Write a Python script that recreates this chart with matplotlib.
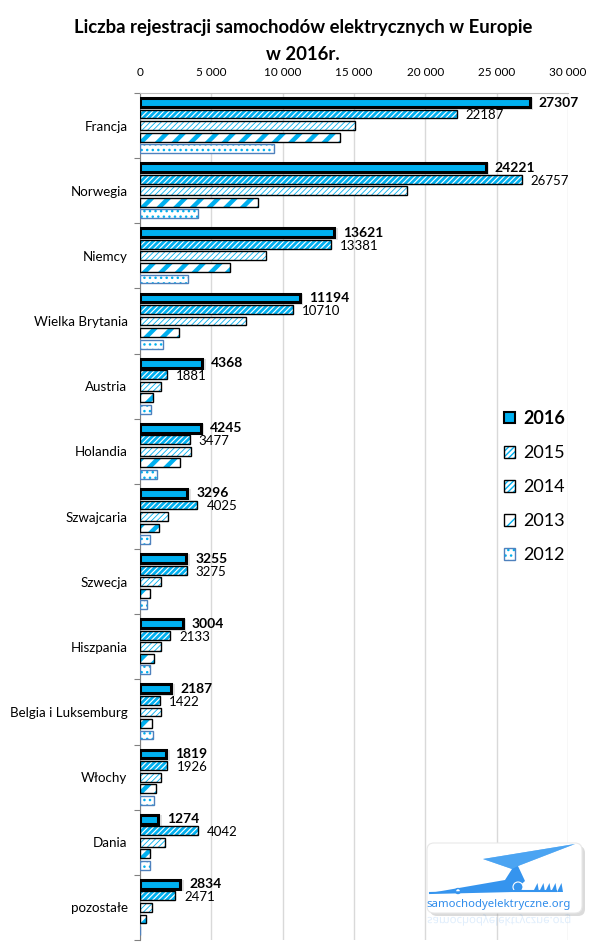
import numpy as np
import matplotlib
matplotlib.use("Agg")
import matplotlib.pyplot as plt
from matplotlib.patches import Patch, FancyBboxPatch, Polygon, Circle, PathPatch
from matplotlib.textpath import TextPath
from matplotlib.font_manager import FontProperties
from matplotlib.transforms import Affine2D

plt.rcParams['font.family'] = ['Lato', 'DejaVu Sans']

# data
countries = ['Francja', 'Norwegia', 'Niemcy', 'Wielka Brytania', 'Austria',
             'Holandia', 'Szwajcaria', 'Szwecja', 'Hiszpania',
             'Belgia i Luksemburg', 'Włochy', 'Dania', 'pozostałe']
years = ['2016', '2015', '2014', '2013', '2012']
v2016 = [27307, 24221, 13621, 11194, 4368, 4245, 3296, 3255, 3004, 2187, 1819, 1274, 2834]
v2015 = [22187, 26757, 13381, 10710, 1881, 3477, 4025, 3275, 2133, 1422, 1926, 4042, 2471]
v2014 = [15100, 18700, 8800, 7400, 1500, 3600, 1950, 1500, 1500, 1450, 1450, 1730, 820]
v2013 = [14000, 8250, 6300, 2700, 880, 2780, 1300, 680, 950, 820, 1100, 680, 400]
v2012 = [9400, 4050, 3350, 1580, 750, 1170, 680, 520, 680, 880, 960, 680, 0]
xticks = [0, 5000, 10000, 15000, 20000, 25000, 30000]

blue = '#00B0F0'
hatches = {'2015': '//////', '2014': '//////', '2013': '//', '2012': '...'}
hatch_lw = {'2015': 2.0, '2014': 0.6, '2013': 3.2, '2012': 1.0}
edges = {'2015': 'black', '2014': 'black', '2013': 'black', '2012': '#4F81BD'}

fig = plt.figure(figsize=(6.0, 9.51), dpi=100)
ax = fig.add_axes([140 / 600, 1 - 940 / 951, 428 / 600, 847 / 951])

n = len(countries)
y = np.arange(n) + 0.5
step = 0.177
bh = 0.135
series = [v2016, v2015, v2014, v2013, v2012]

for k, (yr, vals) in enumerate(zip(years, series)):
    yy = y + (k - 2) * step
    if yr == '2016':
        # soft shadow
        ax.barh(yy + 0.02, np.array(vals) + 250, height=bh + 0.04, color='#888888',
                alpha=0.25, lw=0, zorder=2)
        ax.barh(yy, vals, height=bh, color=blue, edgecolor='black', lw=2.2, zorder=3)
    else:
        with plt.rc_context({'hatch.linewidth': hatch_lw[yr]}):
            bars = ax.barh(yy, vals, height=bh, color='white', edgecolor=blue,
                           hatch=hatches[yr], lw=0, zorder=3)
            for b in bars:
                if hasattr(b, 'set_hatch_linewidth'):
                    b.set_hatch_linewidth(hatch_lw[yr])
        ax.barh(yy, vals, height=bh, fill=False, edgecolor=edges[yr], lw=1.0, zorder=4)

# data labels for 2016 and 2015
for i in range(n):
    ax.annotate(str(v2016[i]), (v2016[i], y[i] - 2 * step), xytext=(6.5, 0),
                textcoords='offset points', va='center', ha='left',
                fontsize=10, fontweight='bold', color='black')
    ax.annotate(str(v2015[i]), (v2015[i], y[i] - step), xytext=(6.5, -1),
                textcoords='offset points', va='center', ha='left',
                fontsize=9.5, color='black')

ax.set_xlim(0, 30000)
ax.set_ylim(n, 0)
ax.xaxis.tick_top()
ax.set_xticks(xticks)
ax.set_xticklabels(['{:,}'.format(t).replace(',', ' ') for t in xticks], fontsize=8.5)
ax.tick_params(axis='x', length=0, pad=11)
ax.set_yticks(np.arange(n + 1))
ax.set_yticklabels([])
ax.tick_params(axis='y', length=4, color='#808080', direction='out')
ax.set_yticks(y, minor=True)
ax.set_yticklabels(countries, minor=True, fontsize=9.6)
ax.tick_params(axis='y', which='minor', length=0, pad=9)
ax.grid(axis='x', color='#D9D9D9', lw=1, zorder=0)
for s in ['right', 'bottom']:
    ax.spines[s].set_visible(False)
ax.spines['top'].set_color('#BFBFBF')
ax.spines['left'].set_color('#808080')
ax.set_axisbelow(True)

# legend
handles = []
for yr in years:
    if yr == '2016':
        handles.append(Patch(facecolor=blue, edgecolor='black', lw=1.5))
    else:
        with plt.rc_context({'hatch.linewidth': hatch_lw[yr]}):
            h1 = Patch(facecolor='white', edgecolor=blue, hatch=hatches[yr], lw=0)
        handles.append((h1, Patch(fill=False, edgecolor=edges[yr], lw=1.0)))
leg = ax.legend(handles, years, loc='upper left', bbox_to_anchor=(504 / 600, 1 - 410 / 951),
                bbox_transform=fig.transFigure, frameon=False, fontsize=13,
                borderpad=0, borderaxespad=0,
                handlelength=0.62, handleheight=0.62, handletextpad=0.45, labelspacing=1.0)
leg.get_texts()[0].set_fontweight('bold')

fig.text(0.505, 1 - 28 / 951, 'Liczba rejestracji samochodów elektrycznych w Europie',
         ha='center', va='center', fontsize=13.3, fontweight='bold')
fig.text(0.505, 1 - 54 / 951, 'w 2016r.',
         ha='center', va='center', fontsize=13.3, fontweight='bold')

# logo box in the lower right
lax = fig.add_axes([0, 0, 1, 1], zorder=10)
lax.set_xlim(0, 600)
lax.set_ylim(951, 0)
lax.axis('off')
lax.add_patch(FancyBboxPatch((430, 846), 155, 70, boxstyle='round,pad=0,rounding_size=7',
                             fc='#9A9A9A', ec='none', alpha=0.35))
lax.add_patch(FancyBboxPatch((427, 843), 155, 70, boxstyle='round,pad=0,rounding_size=7',
                             fc='white', ec='#E8E8E8', lw=0.8))
bolt = [(575, 844), (483, 859), (512, 869), (505, 880), (430, 893),
        (514, 891), (525, 881), (518, 866)]
lax.add_patch(Polygon(bolt, closed=True, fc='#3594EE', ec='none'))
lax.add_patch(Polygon([(483, 859), (575, 844), (518, 866), (512, 869)], closed=True,
                      fc='#5BB0F6', ec='none', alpha=0.6))
lax.plot([430, 512, 520, 556], [893, 891, 891, 891], color='#3594EE', lw=1.5)
lax.add_patch(Circle((518, 887), 5, fc='#3594EE', ec='white', lw=0.8))
lax.add_patch(Circle((458, 891), 2.5, fc='white', ec='#3594EE', lw=1))
for fx in [536, 542, 548, 554, 560]:
    lax.add_patch(Polygon([(fx - 3, 892), (fx + 3, 892), (fx + 1.5, 883)], closed=True,
                          fc='#3594EE', ec='none'))
lax.text(499, 905, 'samochodyelektryczne.org', ha='center', va='center',
         fontsize=8.2, fontweight='bold', color='#2F8CEB', family='Noto Sans')
# faded mirror image of the logo text under the box
fp = FontProperties(family='Noto Sans', weight='bold')
tp = TextPath((0, 0), 'samochodyelektryczne.org', size=11.4, prop=fp)
ext = tp.get_extents()
tp = Affine2D().translate(-ext.width / 2 - ext.x0, 0).translate(499, 917).transform_path(tp)
lax.add_patch(PathPatch(tp, fc='#2F8CEB', ec='none', alpha=0.15))

fig.savefig('out.png', dpi=100)
